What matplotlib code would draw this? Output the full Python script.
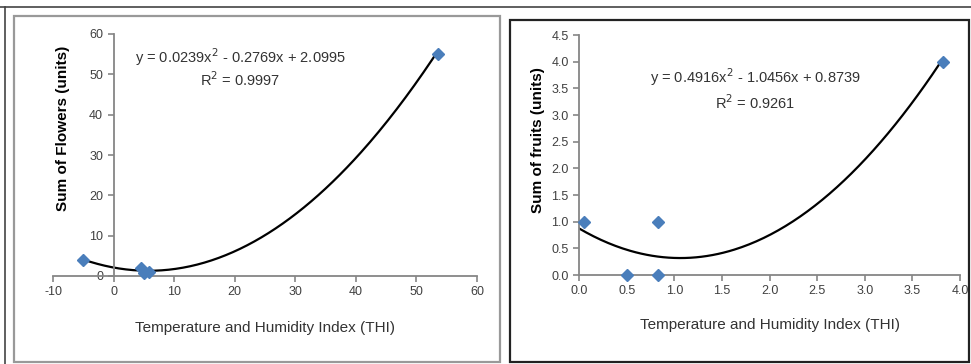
import numpy as np
import matplotlib
matplotlib.use("Agg")
from matplotlib import pyplot as plt
from matplotlib.patches import Rectangle
from matplotlib.lines import Line2D
from matplotlib.ticker import FormatStrFormatter

plt.rcParams['font.family'] = ['Liberation Sans Narrow', 'Liberation Sans', 'DejaVu Sans']
plt.rcParams['axes.unicode_minus'] = False

# ---- data ----
thi_flowers = [-5.0, 4.6, 5.0, 5.8, 53.5]
sum_flowers = [4.0, 2.0, 0.8, 0.9, 55.0]
coef_flowers = [0.0239, -0.2769, 2.0995]
eq_flowers = "y = 0.0239x$^{2}$ - 0.2769x + 2.0995"
r2_flowers = "R$^{2}$ = 0.9997"

thi_fruits = [0.05, 0.5, 0.83, 0.83, 3.82]
sum_fruits = [1.0, 0.0, 0.0, 1.0, 4.0]
coef_fruits = [0.4916, -1.0456, 0.8739]
eq_fruits = "y = 0.4916x$^{2}$ - 1.0456x + 0.8739"
r2_fruits = "R$^{2}$ = 0.9261"

xlabel = "Temperature and Humidity Index (THI)"

W, H = 971, 364
fig = plt.figure(figsize=(W / 100, H / 100), dpi=100)


def box(x0, y0, x1, y1, color, lw):
    fig.add_artist(Rectangle((x0 / W, 1 - y1 / H), (x1 - x0) / W, (y1 - y0) / H,
                             transform=fig.transFigure, fill=False,
                             edgecolor=color, linewidth=lw))


# outer frame lines and the two panel frames
fig.add_artist(Line2D([0, 1], [1 - 7 / H, 1 - 7 / H], transform=fig.transFigure, color='#444444', lw=1.2))
fig.add_artist(Line2D([5 / W, 5 / W], [0, 1 - 7 / H], transform=fig.transFigure, color='#444444', lw=1.2))
box(13.5, 15.5, 500, 361.5, '#999999', 1.6)
box(509.5, 19.5, 969, 361.5, '#222222', 1.6)

BLUE = '#4a7ebb'
AXC = '#868686'
TXT = '#404040'


def style(ax):
    for s in ['top', 'right']:
        ax.spines[s].set_visible(False)
    for s in ['left', 'bottom']:
        ax.spines[s].set_color(AXC)
        ax.spines[s].set_linewidth(1.3)
    ax.tick_params(colors=AXC, labelcolor=TXT, labelsize=9, length=4, width=1.2, direction='out')


# ---- left: flowers ----
ax1 = fig.add_axes([53 / W, 1 - 276 / H, 424 / W, 242 / H])
style(ax1)
ax1.spines['left'].set_position(('data', 0))
ax1.set_xlim(-10, 60)
ax1.set_ylim(0, 60)
ax1.set_xticks(range(-10, 61, 10))
ax1.set_yticks(range(0, 61, 10))
xs = np.linspace(min(thi_flowers), max(thi_flowers), 200)
ax1.plot(xs, np.polyval(coef_flowers, xs), color='black', lw=1.6, zorder=2)
ax1.plot(thi_flowers, sum_flowers, 'D', color=BLUE, ms=6, zorder=3, clip_on=False)
fig.text(240 / W, 1 - 57 / H, eq_flowers, fontsize=10.5, color='#333333', ha='center', va='center')
fig.text(240 / W, 1 - 80 / H, r2_flowers, fontsize=10.5, color='#333333', ha='center', va='center')
fig.text(265 / W, 1 - 328 / H, xlabel, fontsize=11, color='#333333', ha='center', va='center')
fig.text(63 / W, 1 - 128 / H, "Sum of Flowers (units)", rotation=90, fontsize=11,
         fontweight='bold', color='black', ha='center', va='center')

# ---- right: fruits ----
ax2 = fig.add_axes([579 / W, 1 - 275 / H, 381 / W, 240 / H])
style(ax2)
ax2.set_xlim(0, 4.0)
ax2.set_ylim(0, 4.5)
ax2.set_xticks(np.arange(0, 4.01, 0.5))
ax2.set_yticks(np.arange(0, 4.51, 0.5))
ax2.xaxis.set_major_formatter(FormatStrFormatter('%.1f'))
ax2.yaxis.set_major_formatter(FormatStrFormatter('%.1f'))
xs = np.linspace(0, max(thi_fruits), 200)
ax2.plot(xs, np.polyval(coef_fruits, xs), color='black', lw=1.6, zorder=2)
ax2.plot(thi_fruits, sum_fruits, 'D', color=BLUE, ms=6, zorder=3, clip_on=False)
fig.text(755 / W, 1 - 77 / H, eq_fruits, fontsize=10.5, color='#333333', ha='center', va='center')
fig.text(755 / W, 1 - 103 / H, r2_fruits, fontsize=10.5, color='#333333', ha='center', va='center')
fig.text(770 / W, 1 - 325 / H, xlabel, fontsize=11, color='#333333', ha='center', va='center')
fig.text(538 / W, 1 - 140 / H, "Sum of fruits (units)", rotation=90, fontsize=11,
         fontweight='bold', color='black', ha='center', va='center')

fig.savefig("out.png", dpi=100)
